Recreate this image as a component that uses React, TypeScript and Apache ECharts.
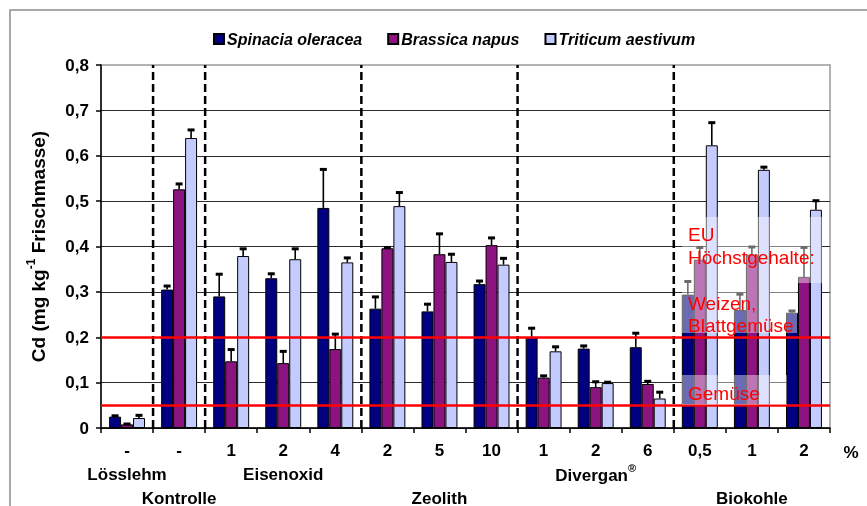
import React, { useEffect, useRef } from "react";
import * as echarts from "echarts";

// x-axis tick labels (dose, %)
const doses = ["-", "-", "1", "2", "4", "2", "5", "10", "1", "2", "6", "0,5", "1", "2"];
// treatment group labels, the category they sit under, and the label row (1 = second row, 2 = third row)
const groupNames = ["Lösslehm", "Kontrolle", "Eisenoxid", "Zeolith", "Divergan{sup|®}", "Biokohle"];
const groupAt = [0, 1, 3, 6, 9, 12];
const groupRow = [1, 2, 1, 2, 1, 2];
// categories in front of which a dashed separator is drawn
const separators = [1, 2, 5, 8, 11];

const seriesNames = ["Spinacia oleracea", "Brassica napus", "Triticum aestivum"];
const spinacia = [0.025, 0.305, 0.29, 0.33, 0.485, 0.263, 0.257, 0.317, 0.2, 0.175, 0.178, 0.294, 0.26, 0.254];
const spinaciaErr = [0.003, 0.009, 0.05, 0.011, 0.086, 0.027, 0.017, 0.008, 0.021, 0.007, 0.032, 0.03, 0.036, 0.005];
const brassica = [0.008, 0.526, 0.147, 0.143, 0.174, 0.396, 0.383, 0.403, 0.111, 0.09, 0.097, 0.371, 0.382, 0.333];
const brassicaErr = [0.002, 0.013, 0.027, 0.027, 0.034, 0.003, 0.046, 0.017, 0.005, 0.013, 0.007, 0.028, 0.018, 0.066];
const triticum = [0.022, 0.639, 0.379, 0.372, 0.365, 0.489, 0.366, 0.36, 0.169, 0.099, 0.065, 0.623, 0.569, 0.481];
const triticumErr = [0.007, 0.019, 0.017, 0.024, 0.011, 0.031, 0.018, 0.015, 0.011, 0.003, 0.015, 0.051, 0.007, 0.021];

const euLimits = [0.2, 0.05];

const colors = ["#000080", "#8C1480", "#C4CCFF"];
const FONT = "'Liberation Sans', Arial, sans-serif";

const values = [spinacia, brassica, triticum];
const errors = [spinaciaErr, brassicaErr, triticumErr];

const labels = doses.map((d, i) => {
  const g = groupAt.indexOf(i);
  if (g < 0) return d;
  return d + "\n".repeat(groupRow[g]) + groupNames[g];
});

const CAT_GAP = 0.31;

export default function App() {
  const ref = useRef<HTMLDivElement>(null);
  useEffect(() => {
    if (!ref.current) return;
    const chart = echarts.init(ref.current, null, { renderer: "svg" });

    const barSeries = values.map((vals, s) => ({
      name: seriesNames[s],
      type: "bar",
      data: vals,
      barGap: "0%",
      barCategoryGap: CAT_GAP * 100 + "%",
      itemStyle: { color: colors[s], borderColor: "#000", borderWidth: 1 },
      z: 2,
      markLine:
        s === 0
          ? {
              silent: true,
              symbol: "none",
              label: { show: false },
              lineStyle: { color: "#FF0000", width: 2.5, type: "solid" },
              data: euLimits.map((v) => ({ yAxis: v })),
              z: 5,
            }
          : undefined,
    }));

    const errSeries = values.map((vals, s) => ({
      type: "custom",
      data: vals.map((v, i) => [i, v, v + errors[s][i]]),
      encode: { x: 0, y: [1, 2] },
      z: 4,
      renderItem: (params: any, api: any) => {
        const idx = api.value(0);
        const bw = api.size([1, 0])[0];
        const barW = (bw * (1 - CAT_GAP)) / 3;
        const base = api.coord([idx, api.value(1)]);
        const top = api.coord([idx, api.value(2)]);
        const x = base[0] + (s - 1) * barW;
        return {
          type: "group",
          children: [
            {
              type: "line",
              shape: { x1: x, y1: base[1], x2: x, y2: top[1] },
              style: { stroke: "#000", lineWidth: 1.6 },
            },
            {
              type: "rect",
              shape: { x: x - 3.5, y: top[1] - 1, width: 7, height: 3 },
              style: { fill: "#000" },
            },
          ],
        };
      },
    }));

    const sepSeries = {
      type: "custom",
      data: separators.map((i) => [i, 0]),
      encode: { x: 0, y: 1 },
      z: 3,
      renderItem: (params: any, api: any) => {
        const bw = api.size([1, 0])[0];
        const p0 = api.coord([api.value(0), 0]);
        const p1 = api.coord([api.value(0), 0.8]);
        const x = p0[0] - bw / 2;
        return {
          type: "line",
          shape: { x1: x, y1: p0[1], x2: x, y2: p1[1] },
          style: { stroke: "#000", lineWidth: 2.5, lineDash: [8, 4] },
        };
      },
    };

    const option: any = {
      animation: false,
      textStyle: { fontFamily: FONT },
      grid: {
        left: 101,
        right: 37,
        top: 65,
        bottom: 78,
        show: true,
        borderColor: "#9a9a9a",
        borderWidth: 1.5,
        containLabel: false,
        outerBoundsMode: "none",
      },
      legend: {
        data: seriesNames,
        left: 213,
        top: 31,
        padding: 0,
        itemWidth: 10,
        itemHeight: 10,
        itemGap: 25,
        icon: "rect",
        textStyle: {
          fontFamily: FONT,
          fontSize: 16,
          fontWeight: "bold",
          fontStyle: "italic",
          color: "#000",
          padding: [0, 0, 0, -2],
        },
      },
      xAxis: {
        type: "category",
        data: doses.map((_, i) => String(i)),
        axisLine: { lineStyle: { color: "#000", width: 1.5 } },
        axisTick: { show: true, length: 5, lineStyle: { color: "#000", width: 1.5 } },
        axisLabel: {
          interval: 0,
          margin: 10,
          color: "#000",
          fontFamily: FONT,
          fontSize: 17,
          fontWeight: "bold",
          lineHeight: 24,
          formatter: (_: string, i: number) => labels[i],
          rich: {
            sup: {
              fontFamily: FONT,
              fontSize: 11,
              fontWeight: "bold",
              color: "#000",
              verticalAlign: "top",
              lineHeight: 26,
            },
          },
        },
      },
      yAxis: {
        type: "value",
        min: 0,
        max: 0.8,
        interval: 0.1,
        name: "Cd (mg kg{sup|-1} Frischmasse)",
        nameLocation: "middle",
        nameGap: 50,
        nameRotate: 90,
        nameTextStyle: {
          fontFamily: FONT,
          fontSize: 19,
          fontWeight: "bold",
          color: "#000",
          lineHeight: 26,
          rich: {
            sup: {
              fontFamily: FONT,
              fontSize: 12,
              fontWeight: "bold",
              color: "#000",
              verticalAlign: "top",
              lineHeight: 26,
            },
          },
        },
        axisLine: { show: true, lineStyle: { color: "#000", width: 1.5 } },
        axisTick: { show: true, length: 5, lineStyle: { color: "#000", width: 1.5 } },
        axisLabel: {
          margin: 12,
          color: "#000",
          fontFamily: FONT,
          fontSize: 17,
          fontWeight: "bold",
          formatter: (v: number) => (v === 0 ? "0" : v.toFixed(1).replace(".", ",")),
        },
        splitLine: { show: true, showMaxLine: false, lineStyle: { color: "#2a2a2a", width: 1 } },
      },
      series: [...barSeries, ...errSeries, sepSeries],
      graphic: [
        {
          type: "rect",
          silent: true,
          z: 0,
          shape: { x: 10, y: 10, width: 900, height: 600 },
          style: { fill: "none", stroke: "#8c8c8c", lineWidth: 1.5 },
        },
        {
          type: "text",
          x: 851,
          y: 452,
          style: {
            text: "%",
            fontFamily: FONT,
            fontSize: 17,
            fontWeight: "bold",
            fill: "#000",
            textAlign: "center",
            textVerticalAlign: "middle",
          },
        },
        { type: "rect", z: 100, silent: true, shape: { x: 682, y: 217, width: 140, height: 66 }, style: { fill: "rgba(255,255,255,0.42)" } },
        { type: "rect", z: 100, silent: true, shape: { x: 682, y: 283, width: 115, height: 50 }, style: { fill: "rgba(255,255,255,0.42)" } },
        { type: "rect", z: 100, silent: true, shape: { x: 682, y: 375, width: 105, height: 30 }, style: { fill: "rgba(255,255,255,0.42)" } },
        ...[
          ["EU", 234],
          ["Höchstgehalte:", 257],
          ["Weizen,", 303],
          ["Blattgemüse", 325],
          ["Gemüse", 393],
        ].map(([t, y]) => ({
          type: "text",
          z: 101,
          x: 688,
          y: y as number,
          style: {
            text: t as string,
            fontFamily: FONT,
            fontSize: 19,
            fill: "#FF0000",
            textAlign: "left",
            textVerticalAlign: "middle",
          },
        })),
      ],
    };
    chart.setOption(option);
    return () => chart.dispose();
  }, []);
  return <div ref={ref} style={{ position: "fixed", left: 0, top: 0, width: 867, height: 506 }} />;
}
